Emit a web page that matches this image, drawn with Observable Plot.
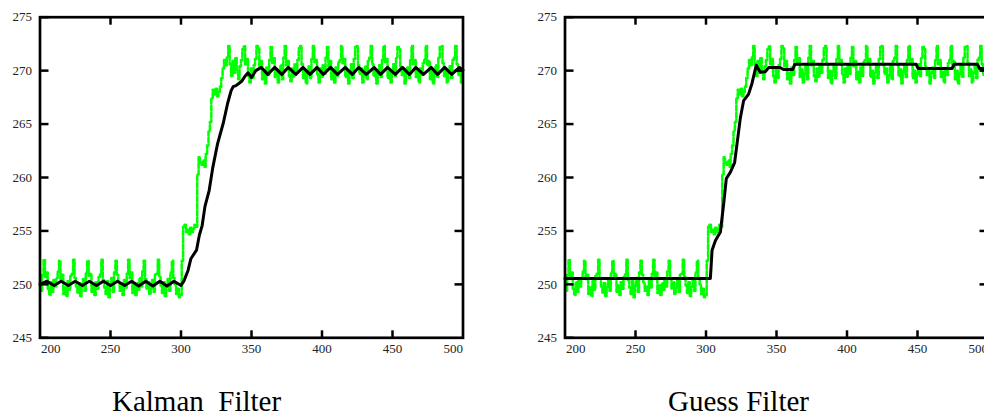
<!DOCTYPE html>
<html>
<head>
<meta charset="utf-8">
<script src="https://cdn.jsdelivr.net/npm/d3@7"></script>
<script src="https://cdn.jsdelivr.net/npm/@observablehq/plot@0.6"></script>
<style>
  html, body { margin: 0; padding: 0; background: #fff; overflow: hidden; }
  #wrap { position: relative; width: 984px; height: 416px; overflow: hidden; }
  .panel { position: absolute; top: 0; width: 490px; height: 360px; }
  .panel svg { max-width: none !important; font-family: "Liberation Serif", serif !important; }
  .panel svg text { font-family: "Liberation Serif", serif; }
  .title { position: absolute; top: 387px; font-family: "Liberation Serif", "DejaVu Serif", serif; font-size: 29px; line-height: 28px; color: #000; white-space: pre; }
</style>
</head>
<body>
<div id="wrap">
  <div class="panel" id="left" style="left:0px"></div>
  <div class="panel" id="right" style="left:525px"></div>
  <div class="title" style="left:112px">Kalman  Filter</div>
  <div class="title" style="left:668px">Guess Filter</div>
</div>
<script>
// ---- tick labels ----
const xTicks = [200, 250, 300, 350, 400, 450, 500];
const yTicks = [245, 250, 255, 260, 265, 270, 275];
const panelTitles = ["Kalman  Filter", "Guess Filter"];

// ---- measured signal (green), one value per sample from x = 200 to 500 ----
const measY = [
  250.6, 249.4, 250.9, 252.3, 250.7, 251.1, 249.6, 249.0, 250.2, 249.3,
  250.4, 249.8, 250.6, 251.2, 252.2, 250.5, 250.9, 249.1, 249.7, 248.9,
  250.3, 249.5, 250.8, 251.0, 252.3, 250.6, 249.8, 249.2, 250.1, 248.9,
  249.8, 250.5, 249.4, 251.1, 252.2, 250.8, 251.0, 249.3, 249.9, 249.0,
  250.2, 249.6, 250.7, 251.0, 252.3, 250.4, 249.7, 249.1, 250.3, 248.8,
  249.9, 250.6, 249.3, 251.1, 252.2, 250.9, 250.2, 249.4, 249.8, 249.0,
  250.4, 249.7, 251.0, 252.3, 250.6, 251.1, 249.2, 249.9, 249.0, 250.1,
  249.5, 250.6, 249.8, 251.2, 252.2, 250.5, 249.6, 250.2, 249.1, 249.7,
  250.4, 249.3, 250.9, 251.0, 252.3, 250.7, 249.9, 249.2, 250.2, 248.9,
  249.8, 250.5, 249.4, 251.1, 252.2, 250.6, 250.0, 249.1, 249.6, 248.8,
  249.0, 252.2,
  255.4, 255.6, 254.9, 255.1, 254.7, 255.3, 254.9, 255.2, 255.6, 255.4,
  260.3, 261.9, 261.4, 261.2, 261.6, 261.0, 262.2, 263.0, 264.3, 265.2,
  267.4, 268.2, 267.8, 268.3, 267.6, 268.0, 268.5, 269.3, 270.2, 271.0,
  270.5, 271.3, 272.3, 270.6, 269.5, 270.9, 269.8, 271.2, 270.0,
  269.2, 270.4, 271.0, 272.0, 272.3, 270.6, 271.1, 269.5, 268.9, 270.2,
  269.3, 270.5, 271.1, 272.3, 272.1, 270.4, 270.9, 269.2, 269.8, 268.8,
  270.3, 269.6, 271.0, 272.2, 270.7, 271.2, 269.4, 270.1, 268.9, 269.7,
  270.5, 269.2, 271.2, 272.3, 270.5, 270.9, 269.5, 269.0, 270.2, 269.4,
  270.6, 269.8, 271.0, 272.1, 272.3, 270.6, 269.3, 270.0, 268.8, 269.9,
  270.4, 269.3, 271.1, 272.3, 270.8, 271.0, 269.6, 268.9, 270.2, 269.4,
  270.5, 269.7, 271.2, 272.2, 270.4, 270.9, 269.2, 269.9, 268.9, 270.3,
  269.5, 270.8, 271.0, 272.3, 270.7, 271.1, 269.4, 270.0, 268.8, 269.8,
  270.6, 269.3, 271.1, 272.2, 272.3, 270.5, 269.7, 270.2, 268.9, 269.6,
  270.4, 269.2, 270.9, 271.2, 272.3, 270.6, 269.5, 270.1, 268.8, 269.9,
  270.5, 269.4, 271.0, 272.3, 270.8, 271.1, 269.3, 270.0, 268.9, 269.7,
  270.6, 269.5, 271.2, 272.2, 272.0, 270.4, 269.6, 270.2, 268.8, 269.8,
  270.3, 269.3, 271.0, 272.3, 270.6, 271.0, 269.4, 269.9, 268.9, 270.2,
  269.6, 270.7, 271.1, 272.3, 270.5, 270.9, 269.2, 270.0, 268.8, 269.7,
  270.5, 269.4, 271.2, 272.2, 272.3, 270.7, 269.5, 270.1, 268.9, 269.8,
  270.4, 269.3, 271.0, 271.2, 272.3, 270.6, 269.6, 270.2, 268.9, 269.7
];
const measX = d3.range(200, 200 + measY.length);

// ---- Kalman filter estimate (black, left panel) ----
const kalmanX = [200, 205, 210, 215, 220, 225, 230, 235, 240, 245, 250, 255, 260, 265, 270, 275, 280, 285, 290, 295,
  300, 302, 305, 307, 311, 313, 315, 317, 320, 322.5, 326, 330, 333, 335.5, 337, 339, 341, 343, 345.5, 347.6, 350, 353, 357,
  361.5, 366.5, 371.5, 376, 381.5, 386.5, 391.5, 396.5, 401, 406, 411, 416.5, 421.5, 426, 431.5, 437, 441.5, 446.5,
  452, 457, 462, 466.5, 472, 477.5, 482, 487, 492, 497.5, 500];
const kalmanY = [250.0, 250.3, 249.9, 250.3, 249.9, 250.3, 249.9, 250.3, 249.9, 250.3, 249.9, 250.3, 249.9, 250.3, 249.85, 250.3, 249.85, 250.3, 249.85, 250.3,
  249.9, 250.3, 251.3, 252.4, 253.2, 254.6, 255.5, 257.3, 258.8, 260.9, 263.2, 265.1, 266.9, 268.1, 268.5, 268.6, 268.8, 269.0, 269.5, 269.8, 269.35, 270.0, 270.3,
  269.65, 270.3, 269.65, 270.3, 269.65, 270.3, 269.65, 270.3, 269.65, 270.3, 269.65, 270.3, 269.65, 270.3, 269.65, 270.3, 269.65, 270.3,
  269.65, 270.3, 269.65, 270.3, 269.65, 270.3, 269.65, 270.3, 269.65, 270.3, 270.05];

// ---- Guess filter estimate (black, right panel) ----
const guessX = [200, 303.1, 304.3, 306.7, 310.2, 312.5, 314.4, 317.3, 320.3, 322, 324.4, 326.7, 330.2, 332.6, 335.6, 338.5, 342, 344.5,
  352.5, 355, 361.5, 363, 449, 450.5, 474.5, 476, 492.5, 494, 500];
const guessY = [250.55, 250.55, 253.2, 254.1, 254.9, 257.5, 259.9, 260.5, 261.4, 263.15, 265.6, 267.2, 267.8, 268.8, 270.5, 269.85, 269.9, 270.3,
  270.3, 270.1, 270.1, 270.6, 270.6, 270.2, 270.2, 270.6, 270.6, 270.2, 270.2];

const meas = measX.map((x, i) => ({x, y: measY[i]}));
const kalman = kalmanX.map((x, i) => ({x, y: kalmanY[i]}));
const guess = guessX.map((x, i) => ({x, y: guessY[i]}));

const innerTicksX = xTicks.slice(1, -1);
const innerTicksY = yTicks.slice(1, -1);
const serif = "'Liberation Serif', serif";

function panel(estimate) {
  return Plot.plot({
    width: 490,
    height: 360,
    marginLeft: 39.5,
    marginRight: 27.5,
    marginTop: 16.7,
    marginBottom: 22.7,
    x: {domain: [200, 500], label: null},
    y: {domain: [245, 275], label: null},
    style: {fontFamily: serif, fontSize: "13px", color: "#222", background: "transparent", overflow: "visible", maxWidth: "none"},
    marks: [
      Plot.line(meas, {x: "x", y: "y", curve: "step", stroke: "#00ff00", strokeWidth: 2.5, strokeDasharray: "5,2"}),
      Plot.line(estimate, {x: "x", y: "y", stroke: "#000", strokeWidth: 3}),
      Plot.frame({stroke: "#000", strokeWidth: 2.7}),
      Plot.axisY(yTicks, {anchor: "left", tickSize: -9, tickPadding: 17, strokeWidth: 2.5, stroke: "#000", fontFamily: serif, fontSize: 13, label: null}),
      Plot.axisY(innerTicksY, {anchor: "right", tickSize: -9, strokeWidth: 2.5, stroke: "#000", tickFormat: () => "", label: null}),
      Plot.axisX(innerTicksX, {anchor: "top", tickSize: -7, strokeWidth: 2.5, stroke: "#000", tickFormat: () => "", label: null}),
      Plot.axisX(innerTicksX, {anchor: "bottom", tickSize: -7, tickPadding: 13, strokeWidth: 2.5, stroke: "#000", fontFamily: serif, fontSize: 13, label: null}),
      Plot.axisX([xTicks[0]], {anchor: "bottom", tickSize: 0, tickPadding: 6, textAnchor: "start", dx: 1, fontFamily: serif, fontSize: 13, label: null}),
      Plot.axisX([xTicks[xTicks.length - 1]], {anchor: "bottom", tickSize: 0, tickPadding: 6, textAnchor: "end", fontFamily: serif, fontSize: 13, label: null})
    ]
  });
}

document.getElementById("left").appendChild(panel(kalman));
document.getElementById("right").appendChild(panel(guess));
</script>
</body>
</html>
